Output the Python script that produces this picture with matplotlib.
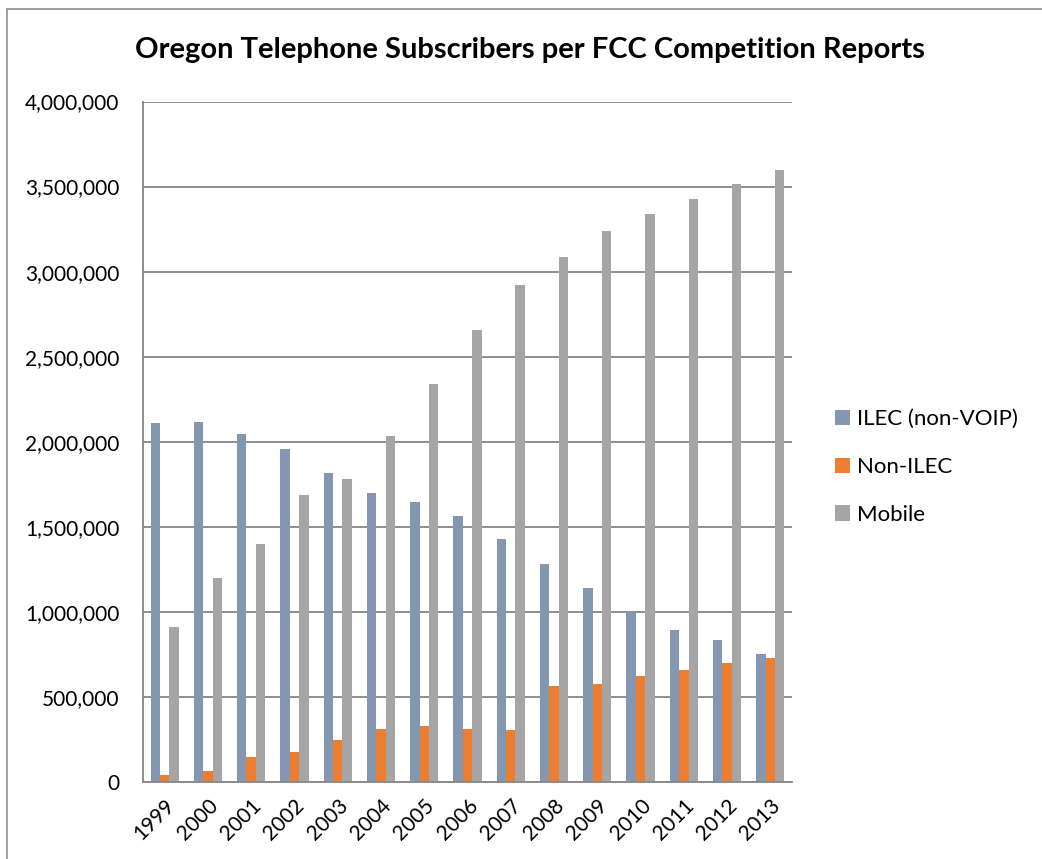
import matplotlib.pyplot as plt
import matplotlib.ticker as mticker
from matplotlib.lines import Line2D
import numpy as np

plt.rcParams['font.family'] = ['Lato', 'DejaVu Sans']

years = ['1999', '2000', '2001', '2002', '2003', '2004', '2005', '2006',
         '2007', '2008', '2009', '2010', '2011', '2012', '2013']
ilec = [2108000, 2114000, 2047000, 1959000, 1815000, 1699000, 1646000, 1561000,
        1427000, 1283000, 1139000, 1001000, 894000, 833000, 750000]
non_ilec = [41000, 65000, 148000, 179000, 244000, 313000, 331000, 313000,
            306000, 567000, 575000, 626000, 657000, 699000, 731000]
mobile = [913000, 1201000, 1400000, 1685000, 1781000, 2031000, 2338000, 2654000,
          2922000, 3086000, 3236000, 3340000, 3424000, 3518000, 3600000]

series = ['ILEC (non-VOIP)', 'Non-ILEC', 'Mobile']
colors = ['#8497B0', '#ED7D31', '#A5A5A5']

fig = plt.figure(figsize=(10.42, 8.59), dpi=100)
ax = fig.add_axes([143 / 1042, 1 - 782 / 859, (792 - 143) / 1042, (782 - 101.5) / 859])

x = np.arange(len(years))
w = 0.217
for i, (vals, lab, col) in enumerate(zip([ilec, non_ilec, mobile], series, colors)):
    ax.bar(x + (i - 1) * w, vals, w, color=col, label=lab, zorder=2)

ax.set_xlim(-0.5, len(years) - 0.5)
ax.set_ylim(0, 4000000)
ax.set_yticks(np.arange(0, 4000001, 500000))
ax.yaxis.set_major_formatter(mticker.StrMethodFormatter('{x:,.0f}'))
ax.grid(axis='y', color='#868686', linewidth=1.3, zorder=0)
ax.set_xticks(x)
ax.set_xticklabels(years, rotation=45, ha='right', rotation_mode='anchor')
ax.tick_params(axis='y', length=0, pad=17, labelsize=15)
ax.tick_params(axis='x', length=0, pad=10, labelsize=15)

for s in ['top', 'right']:
    ax.spines[s].set_visible(False)
for s in ['left', 'bottom']:
    ax.spines[s].set_color('#868686')
    ax.spines[s].set_linewidth(1.3)

fig.text(530 / 1042, 1 - 50 / 859, 'Oregon Telephone Subscribers per FCC Competition Reports',
         ha='center', va='center', fontsize=21, fontweight='bold')

ax.legend(loc='center left', bbox_to_anchor=(835 / 1042, 1 - 467 / 859),
          bbox_transform=fig.transFigure, frameon=False, fontsize=16,
          handlelength=0.68, handleheight=0.68, handletextpad=0.3,
          labelspacing=1.25, borderpad=0, borderaxespad=0)

# chart area border (left and top edges visible)
fig.add_artist(Line2D([7 / 1042, 7 / 1042], [0, 1 - 9 / 859], transform=fig.transFigure,
                      color='#9A9A9A', linewidth=1.3))
fig.add_artist(Line2D([7 / 1042, 1], [1 - 9 / 859, 1 - 9 / 859], transform=fig.transFigure,
                      color='#9A9A9A', linewidth=1.3))

fig.savefig('out.png', dpi=100)
